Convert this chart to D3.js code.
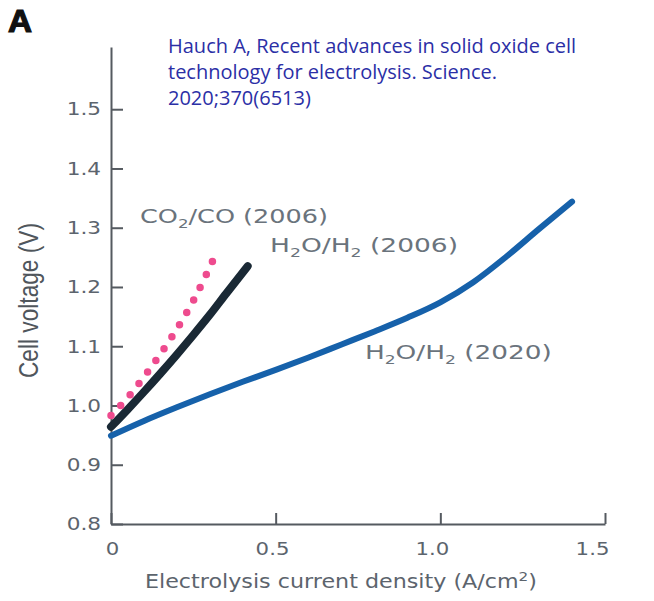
<!DOCTYPE html>
<html><head><meta charset="utf-8">
<script src="https://cdn.jsdelivr.net/npm/d3@7"></script>
<style>body{margin:0;background:#fff} svg{display:block}</style>
</head><body><svg id="c" width="654" height="601"></svg>
<script>
// ---------- data ----------
const xTicks = [0, 0.5, 1.0, 1.5];
const xTickLabels = ["0", "0.5", "1.0", "1.5"];
const yTicks = [0.8, 0.9, 1.0, 1.1, 1.2, 1.3, 1.4, 1.5];
const yTickLabels = ["0.8", "0.9", "1.0", "1.1", "1.2", "1.3", "1.4", "1.5"];

// H2O/H2 (2020)
const h2o2020Current = [0, 0.1, 0.2, 0.3, 0.4, 0.5, 0.6, 0.7, 0.8, 0.9, 1.0, 1.1, 1.2, 1.3, 1.4];
const h2o2020Voltage = [0.949, 0.974, 0.997, 1.019, 1.040, 1.060, 1.081, 1.103, 1.125, 1.148, 1.174, 1.208, 1.251, 1.298, 1.344];
// H2O/H2 (2006)
const h2o2006Current = [0, 0.05, 0.1, 0.15, 0.2, 0.25, 0.3, 0.35, 0.415];
const h2o2006Voltage = [0.964, 0.993, 1.023, 1.054, 1.086, 1.119, 1.153, 1.189, 1.235];
// CO2/CO (2006)
const co2Current = [0, 0.05, 0.1, 0.15, 0.2, 0.25, 0.308];
const co2Voltage = [0.983, 1.013, 1.048, 1.087, 1.129, 1.177, 1.243];

const citationLines = ["Hauch A, Recent advances in solid oxide cell",
                       "technology for electrolysis. Science.",
                       "2020;370(6513)"];
const panelLetter = "A";
const yTitle = "Cell voltage (V)";
const xTitleParts = ["Electrolysis current density (A/cm", "2", ")"];
// series labels: alternating [text, subscript, text, subscript, text]
const labelCO2 = ["CO", "2", "/CO (2006)"];
const labelH2006 = ["H", "2", "O/H", "2", " (2006)"];
const labelH2020 = ["H", "2", "O/H", "2", " (2020)"];

// ---------- layout ----------
const svg = d3.select("#c");
const x = d3.scaleLinear().domain([0, 1.5]).range([111, 605]);
const y = d3.scaleLinear().domain([0.8, 1.605]).range([524, 47]);
const xLab = d3.scaleLinear().domain([0, 1.5]).range([112, 592]);
const axisColor = "#555a60";
const textGray = "#5c646d";

function stretch(sel, f) {
  sel.each(function () {
    const w = this.getComputedTextLength();
    d3.select(this).attr("textLength", w * f).attr("lengthAdjust", "spacingAndGlyphs");
  });
}

// y axis
const gy = svg.append("g").attr("transform", `translate(${x(0)},0)`)
  .call(d3.axisLeft(y).tickValues(yTicks).tickFormat((d, i) => yTickLabels[i])
    .tickSizeInner(-12).tickSizeOuter(0).tickPadding(10));
gy.select(".domain").attr("stroke", axisColor).attr("stroke-width", 2);
gy.selectAll(".tick line").attr("stroke", axisColor).attr("stroke-width", 2);
gy.selectAll(".tick text").attr("font-family", "DejaVu Sans").attr("font-size", 18)
  .attr("fill", textGray).call(stretch, 1.2);

// x axis
const gx = svg.append("g").attr("transform", `translate(0,${y(0.8)})`)
  .call(d3.axisBottom(x).tickValues(xTicks).tickFormat((d, i) => xTickLabels[i])
    .tickSizeInner(-11).tickSizeOuter(0).tickPadding(19));
gx.select(".domain").attr("stroke", axisColor).attr("stroke-width", 2);
gx.selectAll(".tick line").attr("stroke", axisColor).attr("stroke-width", 2);
gx.selectAll(".tick text").attr("font-family", "DejaVu Sans").attr("font-size", 17)
  .attr("fill", textGray).attr("x", d => xLab(d) - x(d)).call(stretch, 1.25);

// axis titles
const xt = svg.append("text").attr("x", 341).attr("y", 588).attr("text-anchor", "middle")
  .attr("font-family", "DejaVu Sans").attr("font-size", 19).attr("fill", textGray);
xt.append("tspan").text(xTitleParts[0]);
xt.append("tspan").attr("font-size", 13).attr("dy", -7).text(xTitleParts[1]);
xt.append("tspan").attr("dy", 7).text(xTitleParts[2]);
xt.attr("textLength", 392).attr("lengthAdjust", "spacingAndGlyphs");

svg.append("text").attr("transform", "translate(38,300.5) rotate(-90)")
  .attr("text-anchor", "middle").attr("font-family", "Liberation Sans").attr("font-size", 27)
  .attr("fill", "#50565c").attr("textLength", 155).attr("lengthAdjust", "spacingAndGlyphs")
  .text(yTitle);

// panel letter
svg.append("text").attr("x", 8).attr("y", 32).attr("font-family", "Liberation Sans")
  .attr("font-weight", "bold").attr("font-size", 31).attr("fill", "#111")
  .attr("stroke", "#111").attr("stroke-width", 1.2)
  .attr("textLength", 24).attr("lengthAdjust", "spacingAndGlyphs").text(panelLetter);

// citation
svg.append("g").selectAll("text").data(citationLines).join("text")
  .attr("x", 168).attr("y", (d, i) => 53 + i * 26)
  .attr("font-family", "Open Sans").attr("font-size", 20).attr("fill", "#2b2fa6")
  .text(d => d);

// ---------- curves ----------
const line = d3.line().x(d => x(d[0])).y(d => y(d[1])).curve(d3.curveMonotoneX);
const zip = (a, b) => a.map((v, i) => [v, b[i]]);

svg.append("path").datum(zip(h2o2020Current, h2o2020Voltage)).attr("d", line)
  .attr("fill", "none").attr("stroke", "#1661aa").attr("stroke-width", 6).attr("stroke-linecap", "round");

svg.append("path").datum(zip(h2o2006Current, h2o2006Voltage)).attr("d", line)
  .attr("fill", "none").attr("stroke", "#1a2935").attr("stroke-width", 8).attr("stroke-linecap", "round");

const dotted = svg.append("path").datum(zip(co2Current, co2Voltage)).attr("d", line)
  .attr("fill", "none").attr("stroke", "#ee4b8e").attr("stroke-width", 7.5).attr("stroke-linecap", "round");
const L = dotted.node().getTotalLength();
dotted.attr("stroke-dasharray", `0 ${(L - 0.05) / 13}`);

// ---------- series labels ----------
function seriesLabel(parts, cx, cv, width) {
  const t = svg.append("text").attr("x", x(cx)).attr("y", y(cv))
    .attr("font-family", "DejaVu Sans").attr("font-size", 20).attr("fill", "#6a737c");
  parts.forEach((p, i) => {
    const sub = i % 2 === 1;
    const ts = t.append("tspan").text(p);
    if (sub) ts.attr("font-size", 13).attr("dy", 5);
    else if (i > 0) ts.attr("dy", -5);
  });
  t.attr("textLength", width).attr("lengthAdjust", "spacingAndGlyphs");
}
seriesLabel(labelCO2, 0.088, 1.308, 188);
seriesLabel(labelH2006, 0.483, 1.259, 188);
seriesLabel(labelH2020, 0.771, 1.079, 187);
</script></body></html>
